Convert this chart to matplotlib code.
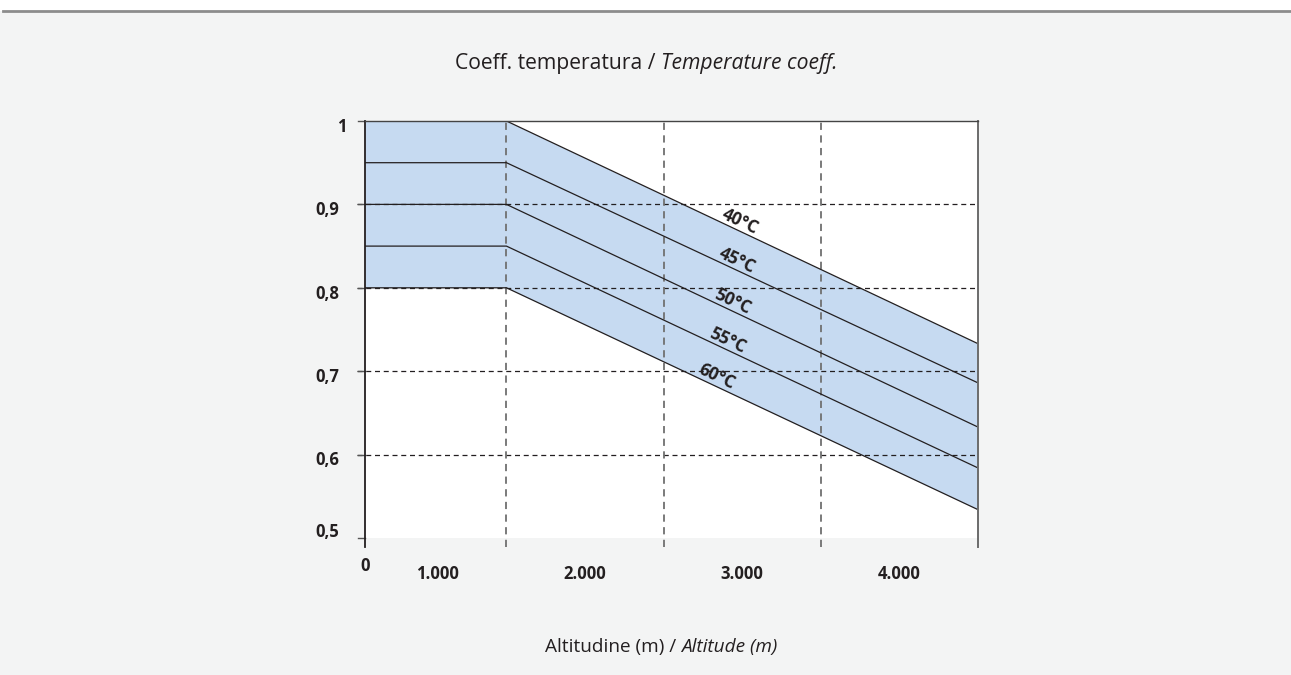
import matplotlib
matplotlib.use("Agg")
import matplotlib.pyplot as plt
from matplotlib.lines import Line2D
from matplotlib.transforms import blended_transform_factory

# altitude breakpoints (m): flat until knee, then linear derating to the end
alt_start = 600
alt_knee = 1500
alt_end = 4500
temps = ["40°C", "45°C", "50°C", "55°C", "60°C"]
coef_knee = [1.00, 0.95, 0.90, 0.85, 0.80]
coef_end = [0.733, 0.686, 0.633, 0.584, 0.534]
label_alt = [2990, 2967, 2941, 2909, 2840]

y_ticks = [0.5, 0.6, 0.7, 0.8, 0.9, 1.0]
y_labels = ["0,5", "0,6", "0,7", "0,8", "0,9", "1"]
x_grid = [1500, 2500, 3500]
x_label_pos = [1060, 2000, 3000, 4000]
x_labels = ["1.000", "2.000", "3.000", "4.000"]

bg = "#f3f4f4"
band = "#c6daf1"
ink = "#231f20"
bold = dict(fontsize=12, fontweight="bold", color=ink, family="Open Sans")

fig = plt.figure(figsize=(12.91, 6.75), dpi=100, facecolor=bg)
ax = fig.add_axes([365/1291, 137/675, 613/1291, 417/675])
ax.set_xlim(alt_start, alt_end)
ax.set_ylim(0.5, 1.0)

# white strip at top of the page with gray rule
fig.patches.append(plt.Rectangle((0, 1 - 11/675), 1, 11/675, transform=fig.transFigure,
                                 facecolor="white", edgecolor="none"))
fig.lines.append(Line2D([3/1291, 1], [1 - 11/675, 1 - 11/675], transform=fig.transFigure,
                        color="#8c8c8c", lw=2))

xs = [alt_start, alt_knee, alt_end]
top = [coef_knee[0], coef_knee[0], coef_end[0]]
bot = [coef_knee[-1], coef_knee[-1], coef_end[-1]]
ax.fill_between(xs, bot, top, color=band, lw=0, zorder=1)

for t, k, e, la in zip(temps, coef_knee, coef_end, label_alt):
    ax.plot(xs, [k, k, e], color=ink, lw=0.9, zorder=3)
    slope = (e - k) / (alt_end - alt_knee)
    yl = k + slope * (la - alt_knee)
    ax.text(la, yl + 0.012, t, rotation=-25.3, ha="center", va="center",
            rotation_mode="anchor", zorder=4, **dict(bold, fontsize=12.5))

# dashed grid, extending a bit beyond the plot area
for y in [0.6, 0.7, 0.8, 0.9]:
    ax.plot([alt_start - 50, alt_end], [y, y], color=ink, lw=0.9, ls=(0, (4, 3)),
            clip_on=False, zorder=2)
for x in x_grid:
    ax.plot([x, x], [0.489, 1.0], color="#707070", lw=1.3, ls=(0, (4, 3)),
            clip_on=False, zorder=2)
ax.plot([alt_end, alt_end], [0.489, 1.0], color="#6b6b6b", lw=1.4, clip_on=False, zorder=5)
ax.plot([alt_start, alt_start], [0.489, 1.0], color=ink, lw=1.3, clip_on=False, zorder=5)
ax.plot([alt_start, alt_end], [1.0, 1.0], color="#444444", lw=1.0, clip_on=False, zorder=5)
for y in y_ticks:
    ax.plot([alt_start - 45, alt_start], [y, y], color="#555555", lw=1.0, clip_on=False)

for s in ax.spines.values():
    s.set_visible(False)
ax.set_xticks([])
ax.set_yticks([])

ytr = blended_transform_factory(fig.transFigure, ax.transData)
for y, lab in zip(y_ticks, y_labels):
    xpos = 337/1291 if lab == "1" else 315/1291
    dy = 0.007 if y == 0.5 else -0.007
    fig.text(xpos, y + dy, lab, transform=ytr, ha="left", va="center", **bold)

xtr = blended_transform_factory(ax.transData, fig.transFigure)
fig.text(alt_start, 1 - 566/675, "0", transform=xtr, ha="center", va="center", **bold)
for x, lab in zip(x_label_pos, x_labels):
    fig.text(x, 1 - 574/675, lab, transform=xtr, ha="center", va="center", **bold)


def two_part(xc, yfig, plain, italic, size):
    r = fig.canvas.get_renderer()
    a = fig.text(0, yfig, plain, ha="left", va="center", fontsize=size, color=ink, family="Open Sans")
    b = fig.text(0, yfig, italic, ha="left", va="center", fontsize=size, color=ink,
                 family="Open Sans", style="italic")
    wa = a.get_window_extent(r).width
    wb = b.get_window_extent(r).width
    x0 = (xc - (wa + wb) / 2) / 1291
    a.set_x(x0)
    b.set_x(x0 + wa / 1291)


two_part(646, 1 - 63/675, "Coeff. temperatura / ", "Temperature coeff.", 15.2)
two_part(661, 1 - 647/675, "Altitudine (m) / ", "Altitude (m)", 13.7)

fig.savefig("out.png", dpi=100, facecolor=bg)
